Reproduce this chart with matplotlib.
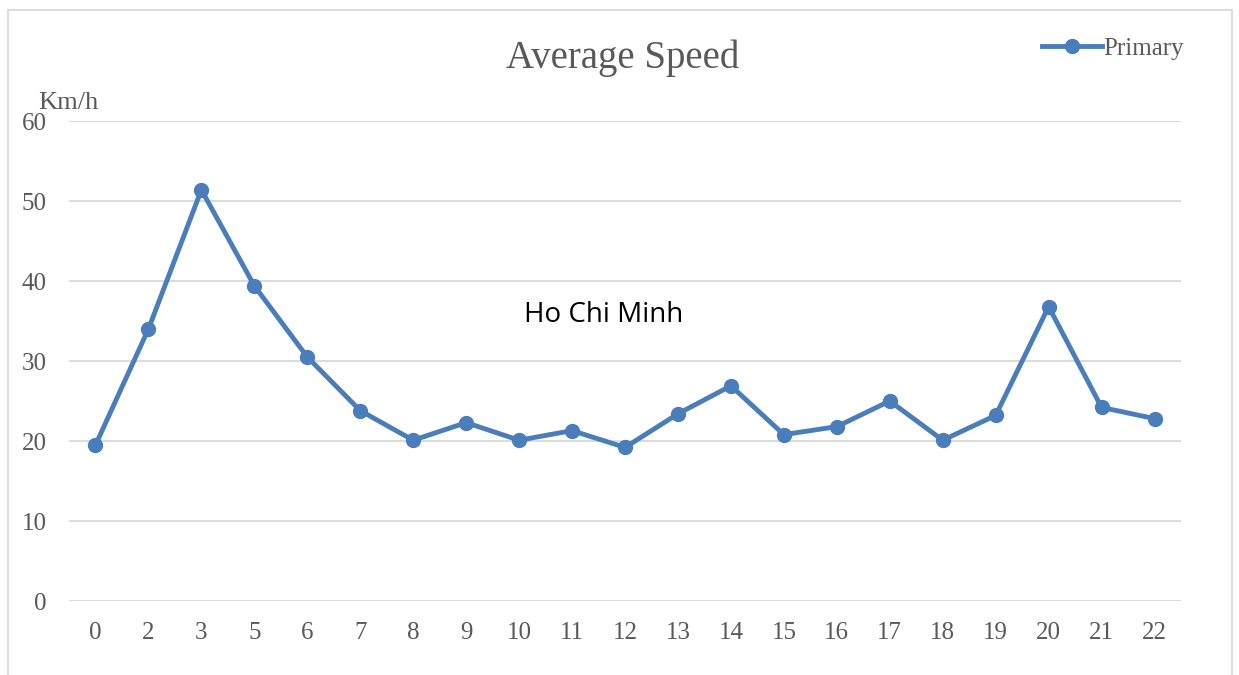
import matplotlib
matplotlib.use("Agg")
import matplotlib.pyplot as plt
from matplotlib.patches import Rectangle
from matplotlib.lines import Line2D

# Data
hours = ["0", "2", "3", "5", "6", "7", "8", "9", "10", "11", "12",
         "13", "14", "15", "16", "17", "18", "19", "20", "21", "22"]
speed = [19.5, 34.0, 51.4, 39.4, 30.5, 23.8, 20.1, 22.3, 20.1, 21.3, 19.2,
         23.4, 26.9, 20.8, 21.8, 25.0, 20.1, 23.2, 36.8, 24.2, 22.8]

blue = "#4A7EBB"
grey = "#595959"
serif = ["Liberation Serif", "DejaVu Serif"]

fig = plt.figure(figsize=(12.39, 6.75), dpi=100)
ax = fig.add_axes([0.0557, 0.1096, 0.8975, 0.7111])

x = range(len(hours))
ax.plot(x, speed, color=blue, linewidth=3.5, marker="o", markersize=10,
        solid_capstyle="round", solid_joinstyle="round", zorder=3)

ax.set_xlim(-0.5, len(hours) - 0.5)
ax.set_ylim(0, 60)
ax.set_yticks(range(0, 61, 10))
ax.set_xticks(list(x))
ax.set_xticklabels(hours)
ax.grid(axis="y", color="#D9D9D9", linewidth=1.3)
ax.set_axisbelow(True)
for s in ax.spines.values():
    s.set_visible(False)
ax.tick_params(length=0, colors=grey, labelsize=18)
ax.tick_params(axis="x", pad=15)
ax.tick_params(axis="y", pad=16)
for lab in ax.get_xticklabels() + ax.get_yticklabels():
    lab.set_family(serif)

# titles and labels
fig.text(0.5025, 0.914, "Average Speed", ha="center", va="center",
         fontsize=28, color=grey, family=serif)
fig.text(0.031, 0.848, "Km/h", ha="left", va="center", fontsize=19,
         color=grey, family=serif)
ax.text(9.6, 35.8, "Ho Chi Minh", ha="center", va="center", fontsize=20,
        color="black", family=["Open Sans", "DejaVu Sans"])

# legend
leg_handle = Line2D([], [], color=blue, linewidth=3.5, marker="o", markersize=10)
fig.legend([leg_handle], ["Primary"], loc="center left",
           bbox_to_anchor=(0.823, 0.928), frameon=False, handlelength=2.4,
           handletextpad=0.05, prop={"family": serif, "size": 18},
           labelcolor=grey)

# outer frame
fig.patches.append(Rectangle((8 / 1239, -0.1), 1224 / 1239, 1.085,
                             transform=fig.transFigure, fill=False,
                             edgecolor="#D9D9D9", linewidth=1.3))

plt.savefig("out.png", dpi=100)
